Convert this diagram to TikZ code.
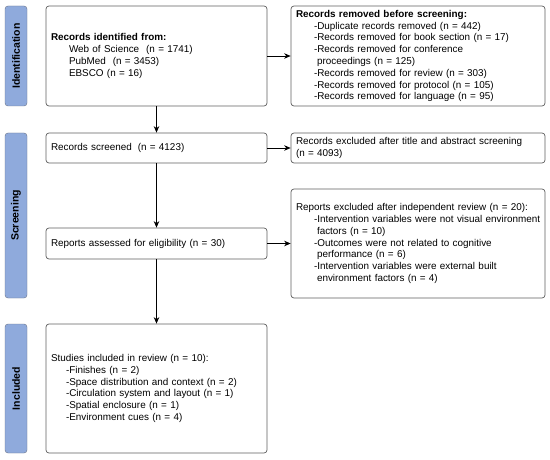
\documentclass[tikz,border=0pt]{standalone}
\usepackage{fontspec}
\setmainfont{Liberation Sans}
\usetikzlibrary{arrows.meta}

\definecolor{barblue}{RGB}{143,170,220}
\definecolor{bargray}{RGB}{105,115,135}
\definecolor{boxgray}{RGB}{95,95,95}

\newcommand{\ind}{\hspace*{18pt}}
\newcommand{\cont}{\hspace*{21pt}}

\begin{document}
\begin{tikzpicture}[x=1pt, y=-1pt,
    phase/.style={draw=bargray, rounded corners=3pt, fill=barblue, rotate=90, minimum height=22pt, inner sep=0pt, font=\fontsize{10.5}{12}\selectfont\bfseries},
    box/.style={draw=boxgray, rounded corners=3pt, fill=white, align=left, inner xsep=5pt, inner ysep=0pt, line width=0.7pt, font=\fontsize{9.9}{11.8}\selectfont},
    arr/.style={-{Stealth[length=6.5pt, width=5.5pt]}, line width=0.7pt}]
        \useasboundingbox (0,0) rectangle (550,460);

        % phase bars
        \node[phase, minimum width=100pt] (identification) at (16,56) {Identification};
        \node[phase, minimum width=165pt] (screening) at (16,215.5) {Screening};
        \node[phase, minimum width=129pt] (included) at (16,388.5) {Included};

        % left column
        \node[box, text width=211pt, minimum height=100pt] (identified) at (156.5,56) {
            \textbf{Records identified from:}\\
            \ind Web of Science\hspace{0.7em}(n = 1741)\\
            \ind PubMed\hspace{0.7em}(n = 3453)\\
            \ind EBSCO (n = 16)
        };
        \node[box, text width=211pt, minimum height=30pt] (screened) at (156.5,148) {Records screened\hspace{0.6em}(n = 4123)};
        \node[box, text width=211pt, minimum height=31pt] (assessed) at (156.5,243.5) {Reports assessed for eligibility (n = 30)};
        \node[box, text width=211pt, minimum height=129pt] (studies) at (156.5,388.5) {
            Studies included in review (n = 10):\\
            \hspace*{15pt}-Finishes (n = 2)\\
            \hspace*{15pt}-Space distribution and context (n = 2)\\
            \hspace*{15pt}-Circulation system and layout (n = 1)\\
            \hspace*{15pt}-Spatial enclosure (n = 1)\\
            \hspace*{15pt}-Environment cues (n = 4)\\[12pt]
        };

        % right column
        \node[box, text width=244pt, minimum height=100pt] (removed) at (418,56) {
            \textbf{Records removed before screening:}\\
            \ind -Duplicate records removed (n = 442)\\
            \ind -Records removed for book section (n = 17)\\
            \ind -Records removed for conference\\
            \cont proceedings (n = 125)\\
            \ind -Records removed for review (n = 303)\\
            \ind -Records removed for protocol (n = 105)\\
            \ind -Records removed for language (n = 95)
        };
        \node[box, text width=244pt, minimum height=30pt] (excluded) at (418,148) {
            Records excluded after title and abstract screening\\
            (n = 4093)
        };
        \node[box, text width=244pt, minimum height=109pt] (reportsout) at (418,243.5) {
            \mbox{Reports excluded after independent review (n = 20):}\\
            \ind \mbox{-Intervention variables were not visual environment}\\
            \cont factors (n = 10)\\
            \ind -Outcomes were not related to cognitive\\
            \cont performance (n = 6)\\
            \ind -Intervention variables were external built\\
            \cont environment factors (n = 4)\\[14pt]
        };

        \draw[arr] (identified) -- (screened);
        \draw[arr] (screened) -- (assessed);
        \draw[arr] (assessed) -- (studies);
        \draw[arr] (identified) -- (removed);
        \draw[arr] (screened) -- (excluded);
        \draw[arr] (assessed) -- (reportsout);
    \end{tikzpicture}
\end{document}
